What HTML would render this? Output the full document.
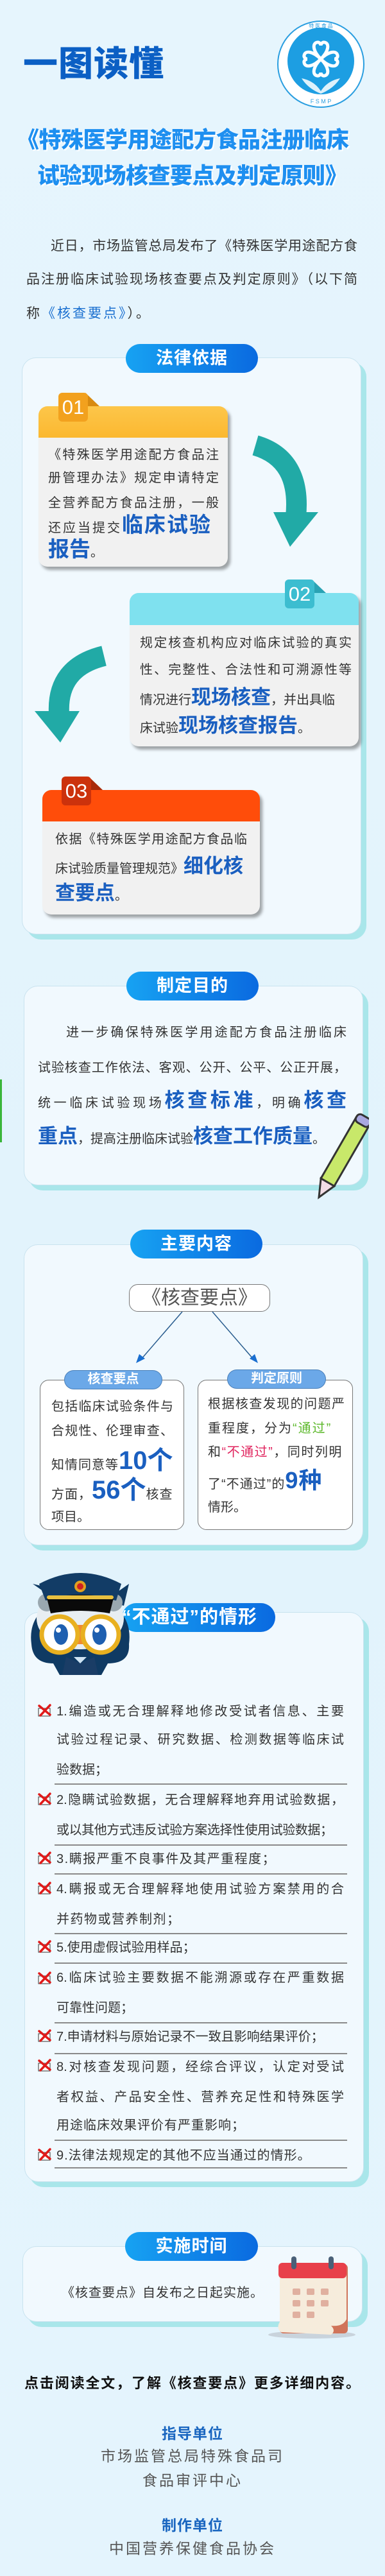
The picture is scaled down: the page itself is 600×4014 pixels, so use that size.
<!DOCTYPE html>
<html><head><meta charset="utf-8">
<style>
*{margin:0;padding:0;box-sizing:border-box}
body{width:600px;height:4014px;position:relative;overflow:hidden;background:linear-gradient(#e6f5fd,#e2f3fc 50%,#e4f4fd);font-family:"Liberation Sans","Noto Sans CJK SC",sans-serif;color:#333}
.a{position:absolute}
.t{position:absolute;white-space:nowrap;height:40px;line-height:40px;font-size:20px}
.j{text-align:justify;text-align-last:justify}
.b{color:#1a5fc0;font-weight:bold}
.card{position:absolute;background:#f1f9fe;border:1px solid #c9e3ef;border-radius:22px;box-shadow:8px 8px 0 #a9e6ea}
.pill{position:absolute;height:45px;border-radius:23px;background:linear-gradient(90deg,#17a2f2,#0a6ae0);color:#fff;font-weight:bold;font-size:27px;text-align:center;line-height:45px;letter-spacing:1px}
.box{position:absolute;background:#f1f1f1;border-radius:14px;box-shadow:4px 5px 5px rgba(0,0,0,.35);overflow:hidden}
.hd{position:absolute;left:0;top:0;right:0;height:49px}
.tab{position:absolute;width:46px;height:45px;border-radius:6px;color:#fff;font-size:31px;text-align:center;line-height:45px}
.sep{position:absolute;left:85px;width:456px;height:2px;background:#8a8a8a}
.x{position:absolute;left:59px;width:22px;height:20px}
</style></head><body>

<!-- header -->
<div class="t" style="left:36px;top:70px;height:60px;line-height:60px;font-size:54px;font-weight:900;color:#0b5fc4;letter-spacing:1px">一图读懂</div>
<svg class="a" style="left:430px;top:30px" width="140" height="140" viewBox="0 0 140 140">
<circle cx="70" cy="70" r="67" fill="#fff" stroke="#2a9ee0" stroke-width="2"/>
<circle cx="70" cy="65" r="52" fill="#1d9ee2"/>
<g fill="none" stroke="#fff" stroke-width="5">
<path d="M70 62 C58 50 56 38 64 36 C68 35 70 39 70 41 C70 39 72 35 76 36 C84 38 82 50 70 62Z"/>
<path d="M70 62 C58 74 56 86 64 88 C68 89 70 85 70 83 C70 85 72 89 76 88 C84 86 82 74 70 62Z"/>
<path d="M70 62 C58 50 46 48 44 56 C43 60 47 62 49 62 C47 62 43 64 44 68 C46 76 58 74 70 62Z"/>
<path d="M70 62 C82 50 94 48 96 56 C97 60 93 62 91 62 C93 62 97 64 96 68 C94 76 82 74 70 62Z"/>
</g>
<path d="M40 92 Q60 96 70 112 Q80 96 100 92 Q90 108 70 116 Q50 108 40 92Z" fill="#fff" opacity=".85"/>
<text x="70" y="131" font-size="9" fill="#2a9ee0" text-anchor="middle" font-family="Liberation Sans">F S M P</text>
<text x="70" y="13" font-size="8" fill="#2a9ee0" text-anchor="middle" font-family="Noto Sans CJK SC">特 医 食 品</text>
</svg>
<div class="t" style="left:26px;top:197px;height:44px;line-height:44px;font-size:35px;font-weight:900;color:#1e8ff0;letter-spacing:-0.5px;text-shadow:0 0 2px #fff,2px 2px 0 #fff">《特殊医学用途配方食品注册临床</div>
<div class="t" style="left:58px;top:253px;height:44px;line-height:44px;font-size:35px;font-weight:900;color:#1e8ff0;letter-spacing:-0.5px;text-shadow:0 0 2px #fff,2px 2px 0 #fff">试验现场核查要点及判定原则》</div>

<div class="t j" style="left:79px;top:364px;width:478px;font-size:21px">近日，市场监管总局发布了《特殊医学用途配方食</div>
<div class="t j" style="left:41px;top:416px;width:516px;font-size:21px">品注册临床试验现场核查要点及判定原则》（以下简</div>
<div class="t" style="left:41px;top:469px;font-size:21px;letter-spacing:3px">称<span style="color:#1a6fd0">《核查要点》</span>）。</div>

<!-- card 1 -->
<div class="card" style="left:34px;top:557px;width:529px;height:899px"></div>
<div class="pill" style="left:196px;top:536px;width:206px">法律依据</div>

<!-- box 01 -->
<div class="box" style="left:60px;top:633px;width:295px;height:250px"><div class="hd" style="background:linear-gradient(#fdc64a,#fbb830)"></div></div>
<div class="a" style="left:133px;top:612px;width:0;height:0;border-left:22px solid #d88a10;border-top:21px solid transparent"></div>
<div class="tab" style="left:91px;top:612px;background:#f2a11e">01</div>
<div class="t" style="left:75px;top:689px;width:266px" ><span class="j" style="display:block;width:266px">《特殊医学用途配方食品注</span></div>
<div class="t j" style="left:75px;top:725px;width:266px">册管理办法》规定申请特定</div>
<div class="t j" style="left:75px;top:764px;width:266px">全营养配方食品注册，一般</div>
<div class="t" style="left:75px;top:798px;letter-spacing:3px">还应当提交<span class="b" style="font-size:33px;letter-spacing:2px">临床试验</span></div>
<div class="t" style="left:75px;top:836px"><span class="b" style="font-size:33px">报告</span>。</div>

<!-- arrow 1 -->
<svg class="a" style="left:0;top:0" width="600" height="1300">
<path d="M398 694 Q470 715 461 805" fill="none" stroke="#21aaa6" stroke-width="32"/>
<polygon points="426,798 496,798 452,852" fill="#21aaa6"/>
<path d="M162 1022 Q88 1040 92 1112" fill="none" stroke="#21aaa6" stroke-width="32"/>
<polygon points="54,1108 124,1108 94,1157" fill="#21aaa6"/>
</svg>

<!-- box 02 -->
<div class="box" style="left:202px;top:924px;width:357px;height:239px"><div class="hd" style="background:#7fe1ef;height:50px"></div></div>
<div class="a" style="left:486px;top:903px;width:0;height:0;border-left:22px solid #2aa3b4;border-top:21px solid transparent"></div>
<div class="tab" style="left:444px;top:903px;background:#3cbdd0">02</div>
<div class="t j" style="left:218px;top:982px;width:330px">规定核查机构应对临床试验的真实</div>
<div class="t j" style="left:218px;top:1024px;width:330px">性、完整性、合法性和可溯源性等</div>
<div class="t" style="left:218px;top:1067px">情况进行<span class="b" style="font-size:31px">现场核查</span>，并出具临</div>
<div class="t" style="left:218px;top:1111px">床试验<span class="b" style="font-size:31px">现场核查报告</span>。</div>

<!-- box 03 -->
<div class="box" style="left:66px;top:1231px;width:339px;height:194px"><div class="hd" style="background:#ff4d0a"></div></div>
<div class="a" style="left:138px;top:1210px;width:0;height:0;border-left:22px solid #a82a0a;border-top:21px solid transparent"></div>
<div class="tab" style="left:96px;top:1210px;background:#cc320c">03</div>
<div class="t j" style="left:86px;top:1288px;width:299px">依据《特殊医学用途配方食品临</div>
<div class="t" style="left:86px;top:1330px">床试验质量管理规范》<span class="b" style="font-size:31px">细化核</span></div>
<div class="t" style="left:86px;top:1372px"><span class="b" style="font-size:31px">查要点</span>。</div>

<!-- card 2 -->
<div class="a" style="left:0;top:1682px;width:3px;height:98px;background:#3ab53a"></div>
<div class="card" style="left:37px;top:1536px;width:529px;height:311px"></div>
<div class="pill" style="left:197px;top:1514px;width:206px">制定目的</div>
<div class="t j" style="left:103px;top:1589px;width:437px">进一步确保特殊医学用途配方食品注册临床</div>
<div class="t j" style="left:59px;top:1644px;width:481px">试验核查工作依法、客观、公开、公平、公正开展，</div>
<div class="t j" style="left:59px;top:1695px;width:481px">统一临床试验现场<span class="b" style="font-size:31px">核查标准</span>，明确<span class="b" style="font-size:31px">核查</span></div>
<div class="t" style="left:59px;top:1751px"><span class="b" style="font-size:31px">重点</span>，提高注册临床试验<span class="b" style="font-size:31px">核查工作质量</span>。</div>
<svg class="a" style="left:490px;top:1730px" width="85" height="150" viewBox="0 0 85 150">
<g transform="rotate(30 42 75)">
<rect x="30" y="8" width="24" height="110" fill="#c8e86a" stroke="#333" stroke-width="3"/>
<rect x="30" y="0" width="24" height="14" rx="6" fill="#a9a8e0" stroke="#333" stroke-width="3"/>
<polygon points="30,118 54,118 42,145" fill="#f2dde6" stroke="#333" stroke-width="3"/>
</g></svg>

<!-- card 3 -->
<div class="card" style="left:37px;top:1939px;width:529px;height:469px"></div>
<div class="pill" style="left:203px;top:1916px;width:206px">主要内容</div>
<div class="a" style="left:201px;top:2001px;width:220px;height:43px;border:1px solid #777;border-radius:14px;background:#fff;text-align:center;font-size:30px;line-height:41px;color:#555">《核查要点》</div>
<svg class="a" style="left:0;top:2040px" width="600" height="90">
<line x1="284" y1="4" x2="220" y2="78" stroke="#2a5d8f" stroke-width="1.5"/>
<polygon points="212,84 226,77 217,70" fill="#1a6fd0"/>
<line x1="331" y1="4" x2="395" y2="78" stroke="#2a5d8f" stroke-width="1.5"/>
<polygon points="402,84 397,70 389,77" fill="#1a6fd0"/>
</svg>
<div class="a" style="left:62px;top:2150px;width:225px;height:234px;border:1.5px solid #777;border-radius:14px;background:#fff"></div>
<div class="a" style="left:100px;top:2135px;width:153px;height:30px;border-radius:15px;background:#6ba8e8;border:1.5px solid #4a7fb8;color:#fff;font-weight:bold;font-size:20px;text-align:center;line-height:27px">核查要点</div>
<div class="a" style="left:308px;top:2150px;width:242px;height:234px;border:1.5px solid #777;border-radius:14px;background:#fff"></div>
<div class="a" style="left:354px;top:2134px;width:154px;height:30px;border-radius:15px;background:#6ba8e8;border:1.5px solid #4a7fb8;color:#fff;font-weight:bold;font-size:20px;text-align:center;line-height:27px">判定原则</div>
<div class="t j" style="left:80px;top:2172px;width:190px">包括临床试验条件与</div>
<div class="t j" style="left:80px;top:2210px;width:190px">合规性、伦理审查、</div>
<div class="t" style="left:80px;top:2256px;letter-spacing:1px">知情同意等<span class="b" style="font-size:40px;letter-spacing:0">10个</span></div>
<div class="t" style="left:80px;top:2302px;letter-spacing:1px">方面，<span class="b" style="font-size:40px;letter-spacing:0">56个</span>核查</div>
<div class="t" style="left:80px;top:2344px">项目。</div>
<div class="t j" style="left:324px;top:2168px;width:213px">根据核查发现的问题严</div>
<div class="t" style="left:324px;top:2206px;letter-spacing:2px">重程度，分为<span style="color:#5cb82a">“通过”</span></div>
<div class="t" style="left:324px;top:2243px;letter-spacing:1.5px">和<span style="color:#e0245e">“不通过”</span>，同时列明</div>
<div class="t" style="left:324px;top:2287px;letter-spacing:1px">了“不通过”的<span class="b" style="font-size:36px">9种</span></div>
<div class="t" style="left:324px;top:2329px">情形。</div>

<!-- card 4 -->
<div class="card" style="left:38px;top:2512px;width:529px;height:888px"></div>
<div class="pill" style="left:190px;top:2498px;width:239px;font-size:29px;text-align:right;padding-right:28px">“不通过”的情形</div>
<svg class="a" style="left:43px;top:2442px" width="165" height="170" viewBox="0 0 165 170">
<path d="M8 26 L28 40 L20 70 Q2 90 6 120 Q8 150 40 150 L50 168 L115 168 L125 150 Q160 150 158 120 Q162 90 145 70 L138 40 L158 26 L150 60 Z" fill="#0f3a63"/>
<ellipse cx="82" cy="80" rx="68" ry="48" fill="#e8eef2"/>
<ellipse cx="30" cy="55" rx="14" ry="14" fill="#9aa8b0"/>
<ellipse cx="134" cy="55" rx="14" ry="14" fill="#9aa8b0"/>
<path d="M18 26 Q82 -8 146 26 L138 52 Q82 40 28 52 Z" fill="#123c66"/>
<path d="M30 48 Q82 38 134 48 L128 72 Q82 64 36 72 Z" fill="#0a0a0a"/>
<rect x="30" y="44" width="104" height="6" rx="3" fill="#e8c040"/>
<circle cx="82" cy="30" r="9" fill="#e0a020"/><circle cx="82" cy="30" r="5" fill="#d02020"/>
<rect x="66" y="90" width="32" height="30" fill="#f08a30"/>
<circle cx="50" cy="105" r="28" fill="#fff" stroke="#e8b020" stroke-width="7"/>
<circle cx="114" cy="105" r="28" fill="#fff" stroke="#e8b020" stroke-width="7"/>
<ellipse cx="52" cy="105" rx="11" ry="16" fill="#1e5fb0"/>
<ellipse cx="112" cy="105" rx="11" ry="16" fill="#1e5fb0"/>
<circle cx="48" cy="98" r="4" fill="#fff"/><circle cx="108" cy="98" r="4" fill="#fff"/>
<path d="M60 140 L82 150 L104 140 L110 168 L54 168Z" fill="#1a3d66"/>
<path d="M72 140 L82 150 L92 140 Z" fill="#cfe4f4"/>
</svg>

<svg class="a" style="left:0;top:0" width="0" height="0"><defs><g id="xi"><rect x="1" y="7" width="18" height="12" fill="#fff" stroke="#555" stroke-width="1.2"/><path d="M2 3 L19 17 M19 2 L4 18" stroke="#e01a1a" stroke-width="3.5" stroke-linecap="round"/></g></defs></svg>
<svg class="x" style="top:2655px"><use href="#xi"/></svg>
<svg class="x" style="top:2793px"><use href="#xi"/></svg>
<svg class="x" style="top:2885px"><use href="#xi"/></svg>
<svg class="x" style="top:2932px"><use href="#xi"/></svg>
<svg class="x" style="top:3023px"><use href="#xi"/></svg>
<svg class="x" style="top:3072px"><use href="#xi"/></svg>
<svg class="x" style="top:3162px"><use href="#xi"/></svg>
<svg class="x" style="top:3208px"><use href="#xi"/></svg>
<svg class="x" style="top:3347px"><use href="#xi"/></svg>

<div class="t j" style="left:88px;top:2647px;width:448px">1.编造或无合理解释地修改受试者信息、主要</div>
<div class="t j" style="left:88px;top:2691px;width:448px">试验过程记录、研究数据、检测数据等临床试</div>
<div class="t" style="left:88px;top:2738px">验数据；</div>
<div class="sep" style="top:2779px"></div>
<div class="t j" style="left:88px;top:2785px;width:448px">2.隐瞒试验数据，无合理解释地弃用试验数据，</div>
<div class="t j" style="left:88px;top:2832px;width:430px;letter-spacing:-1px">或以其他方式违反试验方案选择性使用试验数据；</div>
<div class="sep" style="top:2874px"></div>
<div class="t" style="left:88px;top:2877px;letter-spacing:1.5px">3.瞒报严重不良事件及其严重程度；</div>
<div class="sep" style="top:2919px"></div>
<div class="t j" style="left:88px;top:2924px;width:448px">4.瞒报或无合理解释地使用试验方案禁用的合</div>
<div class="t" style="left:88px;top:2971px;letter-spacing:1.5px">并药物或营养制剂；</div>
<div class="sep" style="top:3012px"></div>
<div class="t" style="left:88px;top:3015px">5.使用虚假试验用样品；</div>
<div class="sep" style="top:3058px"></div>
<div class="t j" style="left:88px;top:3062px;width:448px">6.临床试验主要数据不能溯源或存在严重数据</div>
<div class="t" style="left:88px;top:3109px">可靠性问题；</div>
<div class="sep" style="top:3151px"></div>
<div class="t" style="left:88px;top:3154px">7.申请材料与原始记录不一致且影响结果评价；</div>
<div class="sep" style="top:3199px"></div>
<div class="t j" style="left:88px;top:3201px;width:448px">8.对核查发现问题，经综合评议，认定对受试</div>
<div class="t j" style="left:88px;top:3248px;width:448px">者权益、产品安全性、营养充足性和特殊医学</div>
<div class="t" style="left:88px;top:3292px;letter-spacing:1px">用途临床效果评价有严重影响；</div>
<div class="sep" style="top:3334px"></div>
<div class="t" style="left:88px;top:3339px;letter-spacing:1px">9.法律法规规定的其他不应当通过的情形。</div>
<div class="sep" style="top:3377px"></div>

<!-- card 5 -->
<div class="card" style="left:35px;top:3500px;width:530px;height:118px"></div>
<div class="pill" style="left:195px;top:3478px;width:207px">实施时间</div>
<div class="t" style="left:96px;top:3553px;letter-spacing:1px">《核查要点》自发布之日起实施。</div>
<svg class="a" style="left:416px;top:3514px" width="140" height="132" viewBox="0 0 140 132">
<ellipse cx="70" cy="124" rx="68" ry="6" fill="#c9d3dc"/>
<rect x="20" y="14" width="106" height="108" rx="6" fill="#d0745a"/>
<path d="M20 30 L124 30 L124 100 Q118 112 100 110 Q108 118 100 124 L22 120 Q14 114 20 104 Z" fill="#f6ecdc"/>
<rect x="18" y="12" width="106" height="24" rx="6" fill="#e8404a"/>
<rect x="38" y="2" width="8" height="20" rx="4" fill="#4a6078"/>
<rect x="96" y="2" width="8" height="20" rx="4" fill="#4a6078"/>
<g fill="#e0b0a0"><rect x="40" y="52" width="12" height="10" rx="2"/><rect x="62" y="52" width="12" height="10" rx="2"/><rect x="84" y="52" width="12" height="10" rx="2"/>
<rect x="40" y="70" width="12" height="10" rx="2"/><rect x="62" y="70" width="12" height="10" rx="2"/><rect x="84" y="70" width="12" height="10" rx="2"/>
<rect x="40" y="88" width="12" height="10" rx="2"/><rect x="62" y="88" width="12" height="10" rx="2"/></g>
</svg>

<!-- footer -->
<div class="t j" style="left:38px;top:3694px;width:523px;font-size:22px;font-weight:bold;color:#111">点击阅读全文，了解《核查要点》更多详细内容。</div>
<div class="t" style="left:0;top:3772px;width:600px;text-align:center;font-size:23px;font-weight:bold;color:#1a66c0;letter-spacing:1px">指导单位</div>
<div class="t" style="left:0;top:3807px;width:600px;text-align:center;font-size:23px;color:#555;letter-spacing:3px">市场监管总局特殊食品司</div>
<div class="t" style="left:0;top:3845px;width:600px;text-align:center;font-size:23px;color:#555;letter-spacing:3px">食品审评中心</div>
<div class="t" style="left:0;top:3915px;width:600px;text-align:center;font-size:23px;font-weight:bold;color:#1a66c0;letter-spacing:1px">制作单位</div>
<div class="t" style="left:0;top:3951px;width:600px;text-align:center;font-size:23px;color:#555;letter-spacing:3px">中国营养保健食品协会</div>
</body></html>
